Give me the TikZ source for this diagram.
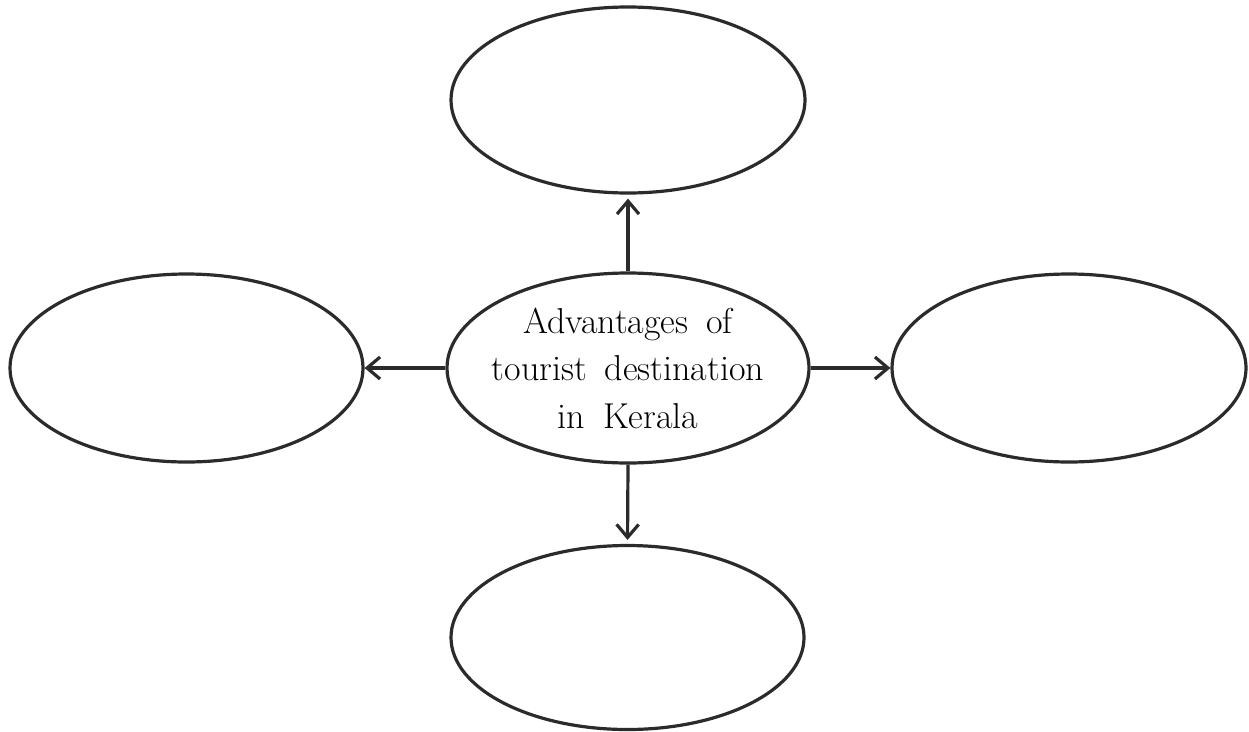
\documentclass[tikz,border=0pt]{standalone}
\usetikzlibrary{shapes.geometric,arrows.meta}
\definecolor{ink}{HTML}{2B2B2B}
\begin{document}
\begin{tikzpicture}[x=1pt,y=-1pt,
  bubble/.style={ellipse, draw=ink, line width=3.2pt, inner sep=0pt},
  link/.style={draw=ink, line width=3.2pt, -{Straight Barb[length=13pt,width=22pt]}},
  label/.style={align=center, text=black, inner sep=0pt, font={\fontsize{36}{47.5}\selectfont\spaceskip=0.5em}}]
\useasboundingbox (0,0) rectangle (1249,731);
\node[bubble, minimum width=362pt, minimum height=190pt] (c) at (628,368) {};
\node[label] (ct) at (c.center) {Advantages of\\tourist destination\\in Kerala};
\node[bubble, minimum width=354pt, minimum height=186pt] (t) at (628,100) {};
\node[bubble, minimum width=353pt, minimum height=188pt] (l) at (186.5,368) {};
\node[bubble, minimum width=354pt, minimum height=188pt] (r) at (1069,368) {};
\node[bubble, minimum width=353pt, minimum height=184pt] (b) at (627.5,637.5) {};
\draw[link, shorten >=4pt] (c.north) -- (t.south);
\draw[link, shorten >=4pt] (c.south) -- (b.north);
\draw[link] (c.west) -- (l.east);
\draw[link] (c.east) -- (r.west);
\end{tikzpicture}
\end{document}
